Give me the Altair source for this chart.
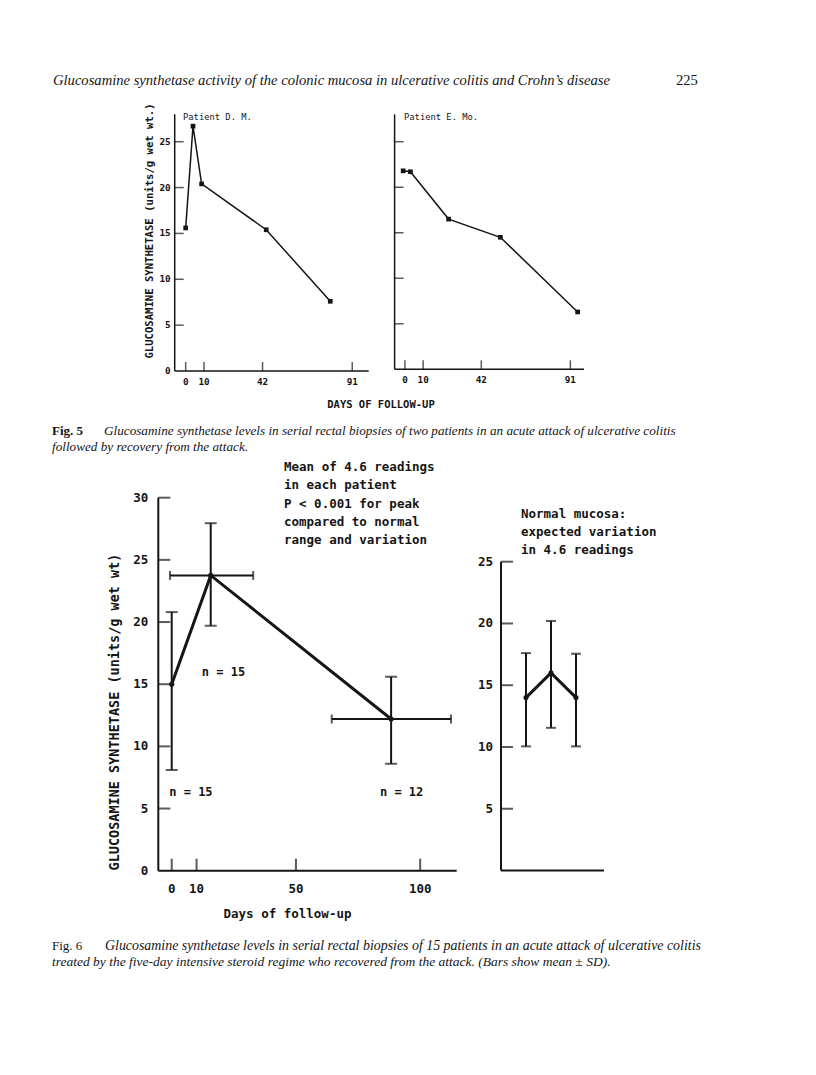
import altair as alt
import pandas as pd

# ---------------- data ----------------
# Fig. 5, patient D.M.
DM_DAYS = [0, 4, 8.7, 44, 79]
DM_VALUES = [15.6, 26.7, 20.4, 15.4, 7.6]
# Fig. 5, patient E.Mo.
EMO_DAYS = [-1, 3, 24, 52.5, 95]
EMO_VALUES = [21.8, 21.7, 16.5, 14.5, 6.3]
FIG5_XTICKS = [0, 10, 42, 91]
FIG5_YTICKS = [5, 10, 15, 20, 25]
FIG5_YLABELS = [0, 5, 10, 15, 20, 25]

# Fig. 6, main panel (mean +- SD)
F6_DAYS = [0, 15.7, 88.3]
F6_MEAN = [15.0, 23.75, 12.2]
F6_SD_LO = [8.1, 19.7, 8.6]
F6_SD_HI = [20.8, 27.95, 15.6]
F6_DAY_LO = [None, -0.7, 64.4]
F6_DAY_HI = [None, 32.8, 112.4]
F6_XTICKS = [0, 10, 50, 100]
F6_YTICKS = [5, 10, 15, 20, 25, 30]
F6_YLABELS = [0, 5, 10, 15, 20, 25, 30]
N_LABELS = ["n = 15", "n = 15", "n = 12"]
N_LABEL_DAY = [12.1, -1.0, 83.8]
N_LABEL_VAL = [16.0, 6.3, 6.3]

# Fig. 6, normal mucosa panel
NORM_POS = [1, 2, 3]
NORM_MEAN = [14.0, 16.0, 14.0]
NORM_LO = [10.05, 11.55, 10.05]
NORM_HI = [17.6, 20.2, 17.55]
NORM_YTICKS = [5, 10, 15, 20, 25]

MEAN_NOTE = ["Mean of 4.6 readings", "in each patient", "P < 0.001 for peak",
             "compared to normal", "range and variation"]
NORM_NOTE = ["Normal mucosa:", "expected variation", "in 4.6 readings"]

# ---------------- layout (page pixels -> chart pixels) ----------------
M = 8


def px(v):
    return v - M


PANELS = {
    "dm": dict(xd=[-6, 100], xr=[px(174.7), px(368.7)], yd=[0, 28], yr=[px(371), px(114.2)]),
    "emo": dict(xd=[-5.7, 98.5], xr=[px(394.6), px(584)], yd=[0, 28], yr=[px(369.3), px(114.4)]),
    "f6": dict(xd=[-5.4, 114.7], xr=[px(158.3), px(456.7)], yd=[0, 30], yr=[px(870.7), px(497.7)]),
    "nm": dict(xd=[0, 4.12], xr=[px(501), px(604)], yd=[0, 25], yr=[px(870.5), px(561.7)]),
}

INK = "#151515"
MONO = "DejaVu Sans Mono"
SERIF = "Liberation Serif"


def X(field, p):
    d = PANELS[p]
    return alt.X(field, type="quantitative",
                 scale=alt.Scale(domain=d["xd"], range=d["xr"], nice=False, zero=False),
                 axis=None)


def Y(field, p):
    d = PANELS[p]
    return alt.Y(field, type="quantitative",
                 scale=alt.Scale(domain=d["yd"], range=d["yr"], nice=False, zero=False),
                 axis=None)


layers = []


def axes(p, ytop, xticks, yticks, ylabels, xlabels, tick_len, width, font, fsize,
         ylab_dx, xlab_dy):
    d = PANELS[p]
    x0, x1 = d["xd"]
    layers.append(alt.Chart(pd.DataFrame({"x": [x0], "y": [0], "y2": [ytop]}))
                  .mark_rule(color=INK, strokeWidth=width)
                  .encode(x=X("x", p), y=Y("y", p), y2="y2"))
    layers.append(alt.Chart(pd.DataFrame({"x": [x0], "x2": [x1], "y": [0]}))
                  .mark_rule(color=INK, strokeWidth=width)
                  .encode(x=X("x", p), x2="x2", y=Y("y", p)))
    if yticks:
        layers.append(alt.Chart(pd.DataFrame({"x": [x0] * len(yticks), "y": yticks}))
                      .mark_tick(orient="horizontal", size=tick_len, thickness=width,
                                 xOffset=tick_len / 2, color=INK)
                      .encode(x=X("x", p), y=Y("y", p)))
    if ylabels:
        layers.append(alt.Chart(pd.DataFrame({"x": [x0] * len(ylabels), "y": ylabels,
                                              "t": [str(v) for v in ylabels]}))
                      .mark_text(align="right", baseline="middle", dx=ylab_dx, font=font,
                                 fontSize=fsize, fontWeight="bold", color=INK)
                      .encode(x=X("x", p), y=Y("y", p), text="t:N"))
    if xticks:
        layers.append(alt.Chart(pd.DataFrame({"x": xticks, "y": [0] * len(xticks)}))
                      .mark_tick(orient="vertical", size=tick_len, thickness=width,
                                 yOffset=-tick_len / 2, color=INK)
                      .encode(x=X("x", p), y=Y("y", p)))
    if xlabels:
        layers.append(alt.Chart(pd.DataFrame({"x": xlabels, "y": [0] * len(xlabels),
                                              "t": [str(v) for v in xlabels]}))
                      .mark_text(align="center", baseline="middle", dy=xlab_dy, font=font,
                                 fontSize=fsize, fontWeight="bold", color=INK)
                      .encode(x=X("x", p), y=Y("y", p), text="t:N"))


def T(text, x, y, font, size, align="left", weight="normal", style="normal", angle=0):
    kw = dict(align=align, baseline="middle", font=font, fontSize=size,
              fontWeight=weight, fontStyle=style, color=INK)
    if angle:
        kw["angle"] = angle
    layers.append(alt.Chart(pd.DataFrame({"t": [text]}))
                  .mark_text(**kw)
                  .encode(x=alt.value(px(x)), y=alt.value(px(y)), text="t:N"))


# ---------------- page header & captions ----------------
T("Glucosamine synthetase activity of the colonic mucosa in ulcerative colitis and Crohn\u2019s disease",
  53, 81, SERIF, 14.6, style="italic")
T("225", 676, 81, SERIF, 14.6)
T("Fig. 5", 52, 431, SERIF, 13, weight="bold")
T("Glucosamine synthetase levels in serial rectal biopsies of two patients in an acute attack of ulcerative colitis",
  104, 431, SERIF, 13.2, style="italic")
T("followed by recovery from the attack.", 52, 447, SERIF, 13.2, style="italic")
T("Fig. 6", 52, 946, SERIF, 13)
T("Glucosamine synthetase levels in serial rectal biopsies of 15 patients in an acute attack of ulcerative colitis",
  105, 946, SERIF, 13.9, style="italic")
T("treated by the five-day intensive steroid regime who recovered from the attack. (Bars show mean \u00b1 SD).",
  52, 962, SERIF, 13.5, style="italic")

# ---------------- Fig. 5 ----------------
axes("dm", 28, FIG5_XTICKS, FIG5_YTICKS, FIG5_YLABELS, FIG5_XTICKS, 9, 1.5, MONO, 9.3, -4, 11)
axes("emo", 28, FIG5_XTICKS, FIG5_YTICKS, [], FIG5_XTICKS, 9, 1.5, MONO, 9.3, -4, 11)

for p, days, vals in (("dm", DM_DAYS, DM_VALUES), ("emo", EMO_DAYS, EMO_VALUES)):
    df = pd.DataFrame({"d": days, "v": vals})
    base = alt.Chart(df)
    layers.append(base.mark_line(color=INK, strokeWidth=1.5).encode(x=X("d", p), y=Y("v", p)))
    layers.append(base.mark_square(color=INK, size=22, opacity=1).encode(x=X("d", p), y=Y("v", p)))

T("Patient D. M.", 183, 117, MONO, 8.8)
T("Patient E. Mo.", 404, 117, MONO, 8.8)
T("GLUCOSAMINE SYNTHETASE (units/g wet wt.)", 150, 231, MONO, 10.6, align="center",
  weight="bold", angle=270)
T("DAYS OF FOLLOW-UP", 381, 405, MONO, 10.5, align="center", weight="bold")

# ---------------- Fig. 6 main panel ----------------
axes("f6", 30, F6_XTICKS, F6_YTICKS, F6_YLABELS, F6_XTICKS, 12, 2, MONO, 12.5, -10, 18)

f6 = pd.DataFrame({"d": F6_DAYS, "m": F6_MEAN, "lo": F6_SD_LO, "hi": F6_SD_HI,
                   "dlo": F6_DAY_LO, "dhi": F6_DAY_HI})
f6h = f6.dropna()
layers.append(alt.Chart(f6).mark_line(color=INK, strokeWidth=3).encode(x=X("d", "f6"), y=Y("m", "f6")))
layers.append(alt.Chart(f6).mark_rule(color=INK, strokeWidth=2)
              .encode(x=X("d", "f6"), y=Y("lo", "f6"), y2="hi"))
layers.append(alt.Chart(f6).mark_tick(orient="horizontal", size=12, thickness=2, color=INK)
              .encode(x=X("d", "f6"), y=Y("lo", "f6")))
layers.append(alt.Chart(f6).mark_tick(orient="horizontal", size=12, thickness=2, color=INK)
              .encode(x=X("d", "f6"), y=Y("hi", "f6")))
layers.append(alt.Chart(f6h).mark_rule(color=INK, strokeWidth=2)
              .encode(x=X("dlo", "f6"), x2="dhi", y=Y("m", "f6")))
layers.append(alt.Chart(f6h).mark_tick(orient="vertical", size=9, thickness=2, color=INK)
              .encode(x=X("dlo", "f6"), y=Y("m", "f6")))
layers.append(alt.Chart(f6h).mark_tick(orient="vertical", size=9, thickness=2, color=INK)
              .encode(x=X("dhi", "f6"), y=Y("m", "f6")))
layers.append(alt.Chart(f6).mark_circle(color=INK, size=26, opacity=1)
              .encode(x=X("d", "f6"), y=Y("m", "f6")))
layers.append(alt.Chart(pd.DataFrame({"d": N_LABEL_DAY, "v": N_LABEL_VAL, "t": N_LABELS}))
              .mark_text(align="left", baseline="middle", font=MONO, fontSize=12,
                         fontWeight="bold", color=INK)
              .encode(x=X("d", "f6"), y=Y("v", "f6"), text="t:N"))

for i, line in enumerate(MEAN_NOTE):
    T(line, 284, 467 + i * 18.3, MONO, 12.5, weight="bold")
T("GLUCOSAMINE SYNTHETASE (units/g wet wt)", 115, 712, MONO, 13.5, align="center",
  weight="bold", angle=270)
T("Days of follow-up", 287.5, 914, MONO, 12.5, align="center", weight="bold")

# ---------------- Fig. 6 normal mucosa panel ----------------
axes("nm", 25, [], NORM_YTICKS, NORM_YTICKS, [], 12, 2, MONO, 12.5, -8, 18)
nm = pd.DataFrame({"x": NORM_POS, "m": NORM_MEAN, "lo": NORM_LO, "hi": NORM_HI})
layers.append(alt.Chart(nm).mark_line(color=INK, strokeWidth=3).encode(x=X("x", "nm"), y=Y("m", "nm")))
layers.append(alt.Chart(nm).mark_rule(color=INK, strokeWidth=2)
              .encode(x=X("x", "nm"), y=Y("lo", "nm"), y2="hi"))
layers.append(alt.Chart(nm).mark_tick(orient="horizontal", size=10, thickness=2, color=INK)
              .encode(x=X("x", "nm"), y=Y("lo", "nm")))
layers.append(alt.Chart(nm).mark_tick(orient="horizontal", size=10, thickness=2, color=INK)
              .encode(x=X("x", "nm"), y=Y("hi", "nm")))
layers.append(alt.Chart(nm).mark_circle(color=INK, size=26, opacity=1)
              .encode(x=X("x", "nm"), y=Y("m", "nm")))
for i, line in enumerate(NORM_NOTE):
    T(line, 521, 513.5 + i * 18.3, MONO, 12.5, weight="bold")

chart = (alt.layer(*layers)
         .resolve_scale(x="independent", y="independent")
         .properties(width=800, height=1059, padding=0, autosize=alt.AutoSizeParams(type="none"),
                     background="white")
         .configure_view(stroke=None))

chart.save("out.html", embed_options={"renderer": "svg", "actions": False})
